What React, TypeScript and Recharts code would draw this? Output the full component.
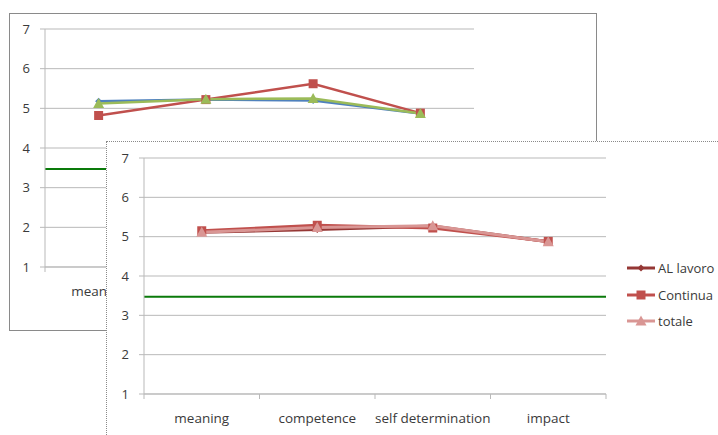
import React from 'react';
import { LineChart, Line, XAxis, YAxis, CartesianGrid, ReferenceLine } from 'recharts';

// Categories shared by both panels
const categories = ['meaning', 'competence', 'self determination', 'impact'];
const seriesNames = ['AL lavoro', 'Continua', 'totale'];

// Rear panel values
const rearAlLavoro = [5.18, 5.22, 5.2, 4.87];
const rearContinua = [4.82, 5.22, 5.62, 4.88];
const rearTotale = [5.12, 5.23, 5.25, 4.87];

// Front panel values
const frontAlLavoro = [5.11, 5.18, 5.27, 4.87];
const frontContinua = [5.15, 5.29, 5.22, 4.88];
const frontTotale = [5.11, 5.23, 5.28, 4.87];

// Threshold line drawn on both panels
const cutoff = 3.47;

const yTicks = [1, 2, 3, 4, 5, 6, 7];

const FONT = "'Open Sans', sans-serif";
const TEXT = '#3a3a3a';
const GRID = '#b9b9b9';
const GREEN = '#0a7a0a';

const rearData = categories.map((c, i) => ({
  cat: c,
  alLavoro: rearAlLavoro[i],
  continua: rearContinua[i],
  totale: rearTotale[i],
}));

const frontData = categories.map((c, i) => ({
  cat: c,
  alLavoro: frontAlLavoro[i],
  continua: frontContinua[i],
  totale: frontTotale[i],
}));

type Shape = 'diamond' | 'square' | 'triangle';

function markerPath(shape: Shape, cx: number, cy: number, size: number) {
  const h = size / 2;
  if (shape === 'square') {
    return `M${cx - h},${cy - h}H${cx + h}V${cy + h}H${cx - h}Z`;
  }
  if (shape === 'diamond') {
    return `M${cx},${cy - h}L${cx + h},${cy}L${cx},${cy + h}L${cx - h},${cy}Z`;
  }
  return `M${cx},${cy - h - 1}L${cx + h + 1},${cy + h}L${cx - h - 1},${cy + h}Z`;
}

const makeDot = (shape: Shape, color: string, size: number) => (props: any) => {
  const { cx, cy, index } = props;
  if (cx == null || cy == null) return <g key={`d${index}`} />;
  return <path key={`d${index}`} d={markerPath(shape, cx, cy, size)} fill={color} stroke="none" />;
};

const makeCatTick = (band: number) => (props: any) => {
  const { x, y, payload, index } = props;
  return (
    <g>
      {index === 0 && (
        <line x1={x - band / 2} x2={x - band / 2} y1={y} y2={y + 5} stroke={GRID} />
      )}
      <line x1={x + band / 2} x2={x + band / 2} y1={y} y2={y + 5} stroke={GRID} />
      <text
        x={x}
        y={y + 24}
        textAnchor="middle"
        dominantBaseline="central"
        fill={TEXT}
        fontSize={13.5}
        fontFamily={FONT}
      >
        {payload.value}
      </text>
    </g>
  );
};

// Rear panel geometry
const R_W = 586;
const R_H = 316;
const R_MARGIN = { top: 15, right: 122, left: 0, bottom: 33 };
const R_YW = 35;
const R_BAND = (R_W - R_MARGIN.right - R_MARGIN.left - R_YW) / categories.length;

// Front panel geometry
const F_W = 640;
const F_H = 320;
const F_MARGIN = { top: 16, right: 141, left: 0, bottom: 38 };
const F_YW = 37;
const F_BAND = (F_W - F_MARGIN.right - F_MARGIN.left - F_YW) / categories.length;

const rearColors = ['#4f81bd', '#c0504d', '#9bbb59'];
const frontColors = ['#953735', '#c0504d', '#d99694'];
const shapes: Shape[] = ['diamond', 'square', 'triangle'];
const keys = ['alLavoro', 'continua', 'totale'];

function Legend3() {
  return (
    <div style={{ position: 'absolute', left: 520, top: 113, fontFamily: FONT, fontSize: 13, color: TEXT }}>
      {seriesNames.map((name, i) => (
        <div key={name} style={{ display: 'flex', alignItems: 'center', height: 26.5 }}>
          <svg width={30} height={12} style={{ display: 'block' }}>
            <line x1={0} x2={28} y1={6} y2={6} stroke={frontColors[i]} strokeWidth={3} />
            <path d={markerPath(shapes[i], 14, 6, shapes[i] === 'diamond' ? 7 : 9)} fill={frontColors[i]} />
          </svg>
          <span style={{ marginLeft: 1, lineHeight: '14px' }}>{name}</span>
        </div>
      ))}
    </div>
  );
}

function Panel({
  data,
  colors,
  width,
  height,
  margin,
  yWidth,
  band,
  lineWidth,
}: any) {
  return (
    <LineChart width={width} height={height} data={data} margin={margin} style={{ fontFamily: FONT }}>
      <CartesianGrid horizontal vertical={false} stroke={GRID} strokeWidth={1} />
      <XAxis
        dataKey="cat"
        axisLine={{ stroke: GRID }}
        tickLine={false}
        tickSize={0}
        tickMargin={0}
        height={30}
        interval={0}
        padding={{ left: band / 2, right: band / 2 }}
        tick={makeCatTick(band)}
      />
      <YAxis
        domain={[1, 7]}
        ticks={yTicks}
        width={yWidth}
        axisLine={{ stroke: GRID }}
        tickLine={{ stroke: GRID }}
        tickSize={5}
        tickMargin={10}
        tick={{ fill: TEXT, fontSize: 13, fontFamily: FONT }}
        interval={0}
      />
      <ReferenceLine y={cutoff} stroke={GREEN} strokeWidth={2} ifOverflow="extendDomain" />
      {keys.map((k, i) => (
        <Line
          key={k}
          dataKey={k}
          type="linear"
          stroke={colors[i]}
          strokeWidth={lineWidth}
          dot={makeDot(shapes[i], colors[i], shapes[i] === 'diamond' ? 7 : 9)}
          activeDot={false}
          isAnimationActive={false}
        />
      ))}
    </LineChart>
  );
}

export default function App() {
  return (
    <div
      style={{
        position: 'absolute',
        left: 0,
        top: 0,
        width: 718,
        height: 435,
        overflow: 'hidden',
        background: '#fff',
        fontFamily: FONT,
      }}
    >
      <div
        style={{
          position: 'absolute',
          left: 9,
          top: 13,
          width: R_W + 2,
          height: R_H + 2,
          boxSizing: 'border-box',
          border: '1px solid #8a8a8a',
          background: '#fff',
        }}
      >
        <Panel
          data={rearData}
          colors={rearColors}
          width={R_W}
          height={R_H}
          margin={R_MARGIN}
          yWidth={R_YW}
          band={R_BAND}
          lineWidth={2.5}
        />
      </div>
      <div
        style={{
          position: 'absolute',
          left: 106,
          top: 141,
          width: F_W + 2,
          height: F_H + 2,
          boxSizing: 'border-box',
          border: '1px dotted #8a8a8a',
          background: '#fff',
        }}
      >
        <Panel
          data={frontData}
          colors={frontColors}
          width={F_W}
          height={F_H}
          margin={F_MARGIN}
          yWidth={F_YW}
          band={F_BAND}
          lineWidth={3}
        />
        <Legend3 />
      </div>
    </div>
  );
}
